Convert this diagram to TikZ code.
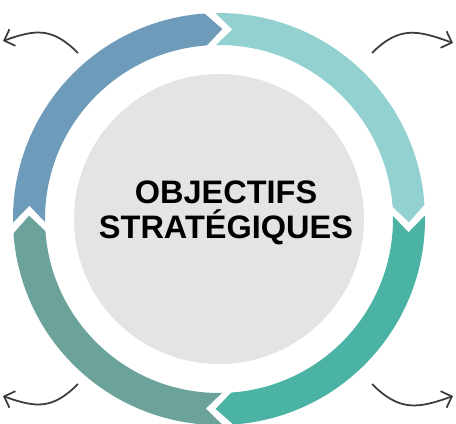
\documentclass[tikz,border=0pt]{standalone}
\usepackage{fontspec}
\setmainfont{Liberation Sans}
\usetikzlibrary{arrows.meta}
\usetikzlibrary{positioning}

\definecolor{segblue}{HTML}{6E9BBA}
\definecolor{segcyan}{HTML}{93D1D1}
\definecolor{segteal}{HTML}{4BB3A3}
\definecolor{segsage}{HTML}{6BA39B}
\definecolor{coregray}{HTML}{E4E4E4}
\definecolor{curvegray}{HTML}{3C3C3C}

\tikzstyle{every node}=[inner sep=0.1em]
\tikzstyle{curve}=[draw=curvegray, line width=1pt, -{Straight Barb[length=5pt,width=10pt]}]
\tikzstyle{title}=[font=\bfseries\fontsize{18.5}{20}\selectfont, align=center, text=black]

% radii of the ring (outer, inner, middle)
\newcommand{\Ro}{206}
\newcommand{\Ri}{174}
\newcommand{\Rm}{190}

% ring piece: colour, tail angle, tip angle
\newcommand{\ringpiece}[3]{%
  \fill[#1] (#2:\Ro) arc[start angle=#2, end angle=#3+5, radius=\Ro]
    -- (#3:\Rm) -- (#3+5:\Ri) arc[start angle=#3+5, end angle=#2, radius=\Ri]
    -- (#2-5:\Rm) -- cycle;}

\begin{document}
\begin{tikzpicture}[x=0.02cm, y=0.02cm]
	\useasboundingbox (0,0) rectangle (456,423);

    \begin{scope}[shift={(219,204)}]

        % Grey core
        \fill[coregray] (0,0) circle[radius=145];

        % Ring of four arrows, clockwise
        \ringpiece{segblue}{181}{89}
        \ringpiece{segcyan}{91}{-1}
        \ringpiece{segteal}{1}{-91}
        \ringpiece{segsage}{-89}{-181}

    \end{scope}

    \node[title] (goal) at (226,210) {OBJECTIFS\\STRATÉGIQUES};

    % Small curved arrows in the corners
    \coordinate (tlS) at (78,370);
    \coordinate (tlE) at (3,382);
    \coordinate (trS) at (372,370);
    \coordinate (trE) at (453,380);
    \coordinate (blS) at (78,39);
    \coordinate (blE) at (3,27);
    \coordinate (brS) at (372,39);
    \coordinate (brE) at (453,27);

    \draw[curve] (tlS) to[out=135, in=20, looseness=1.2] (tlE);
    \draw[curve] (trS) to[out=45, in=160, looseness=1.2] (trE);
    \draw[curve] (blS) to[out=225, in=-20, looseness=1.2] (blE);
    \draw[curve] (brS) to[out=-45, in=200, looseness=1.2] (brE);

\end{tikzpicture}
\end{document}
